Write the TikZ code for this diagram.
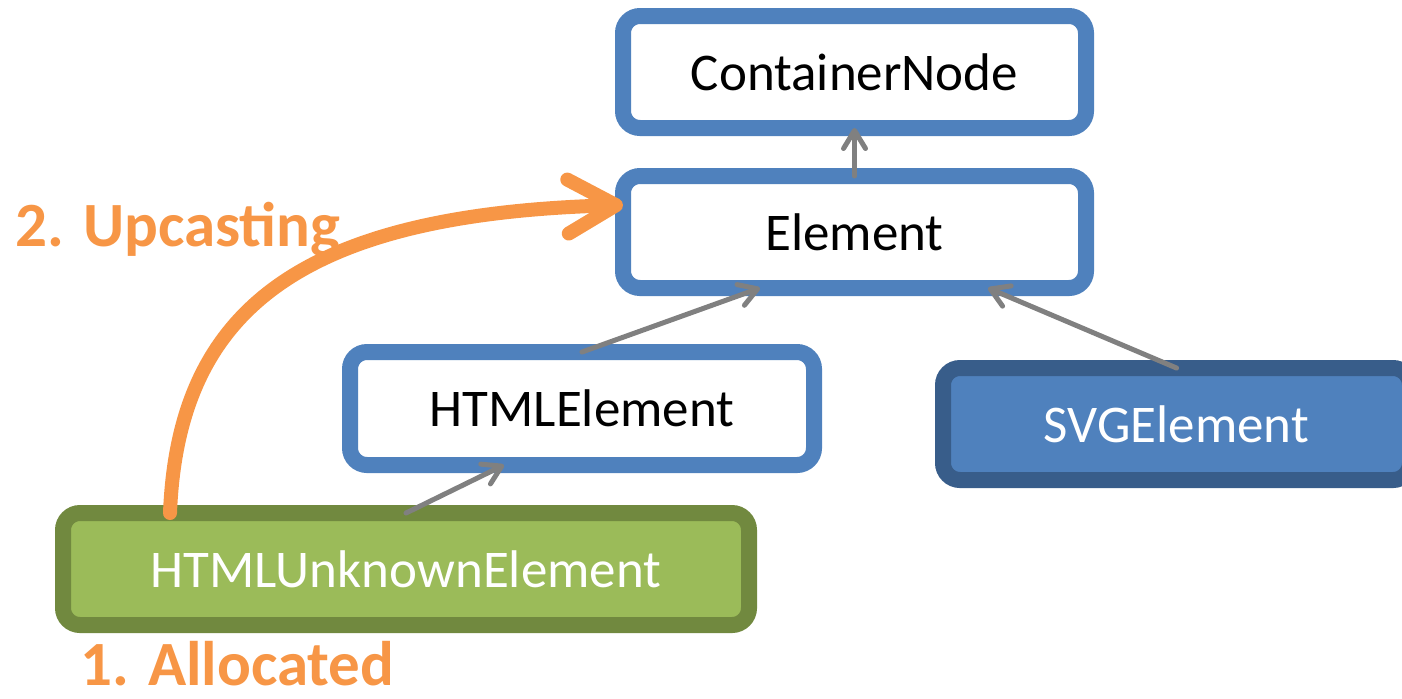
\documentclass[tikz,border=0pt]{standalone}
\usepackage{fontspec}
\setmainfont{Carlito}
\usetikzlibrary{arrows.meta}
\definecolor{boxblue}{HTML}{4F81BD}
\definecolor{darkblue}{HTML}{385D8A}
\definecolor{leafgreen}{HTML}{9BBB59}
\definecolor{darkgreen}{HTML}{71893F}
\definecolor{castorange}{HTML}{F79646}
\tikzset{
  classbox/.style={draw=boxblue, fill=white, line width=8pt, rounded corners=8.5pt,
    inner sep=0pt, outer sep=0pt, font=\fontsize{26.5pt}{32pt}\selectfont},
  subbox/.style={classbox, draw=darkblue, fill=boxblue, text=white},
  leafbox/.style={classbox, draw=darkgreen, fill=leafgreen, text=white},
  inherit/.style={draw=gray, line width=2.5pt, line cap=round,
    -{Straight Barb[length=9pt, width=11pt, round]}},
  upcast/.style={draw=castorange, line width=7pt, line cap=round,
    -{Straight Barb[length=24pt, width=27pt, round]}},
  steplabel/.style={text=castorange, inner sep=0pt, anchor=base west,
    font=\bfseries\fontsize{31.5pt}{36pt}\selectfont}
}

\begin{document}
\begin{tikzpicture}[x=0.5pt, y=-0.5pt]
	%%%%% START %%%%%
	\clip (0, 0) rectangle (1402, 698);
	
	\node[classbox, minimum width=231.5pt, minimum height=56pt] (cnode) at (854.5, 72) {ContainerNode};
	\node[classbox, minimum width=231.5pt, minimum height=56pt] (elem) at (854.5, 232) {Element};
	\node[classbox, minimum width=232pt, minimum height=56.5pt] (html) at (582, 408.5) {HTMLElement};
	\node[subbox, minimum width=233.5pt, minimum height=56pt] (svg) at (1176.5, 424) {SVGElement};
	\node[leafbox, minimum width=343pt, minimum height=56pt] (unknown) at (406, 569) {HTMLUnknownElement};
	
	\draw[inherit] (elem.north) -- (cnode.south);
	\draw[inherit] (html.north) -- ([xshift=-47.25pt]elem.south);
	\draw[inherit] (svg.north) -- ([xshift=66.75pt]elem.south);
	\draw[inherit] (unknown.north) -- ([xshift=-39pt]html.south);
	
	\draw[upcast] ([xshift=-118pt]unknown.north) .. controls (178, 310) and (300, 214) .. ([yshift=13.5pt]elem.west);
	
	\node[steplabel] (upcastlbl) at (15, 246) {2. Upcasting};
	\node[steplabel] (alloclbl) at (80, 685) {1. Allocated};
	
	%%%%% END %%%%%
\end{tikzpicture}
\end{document}
